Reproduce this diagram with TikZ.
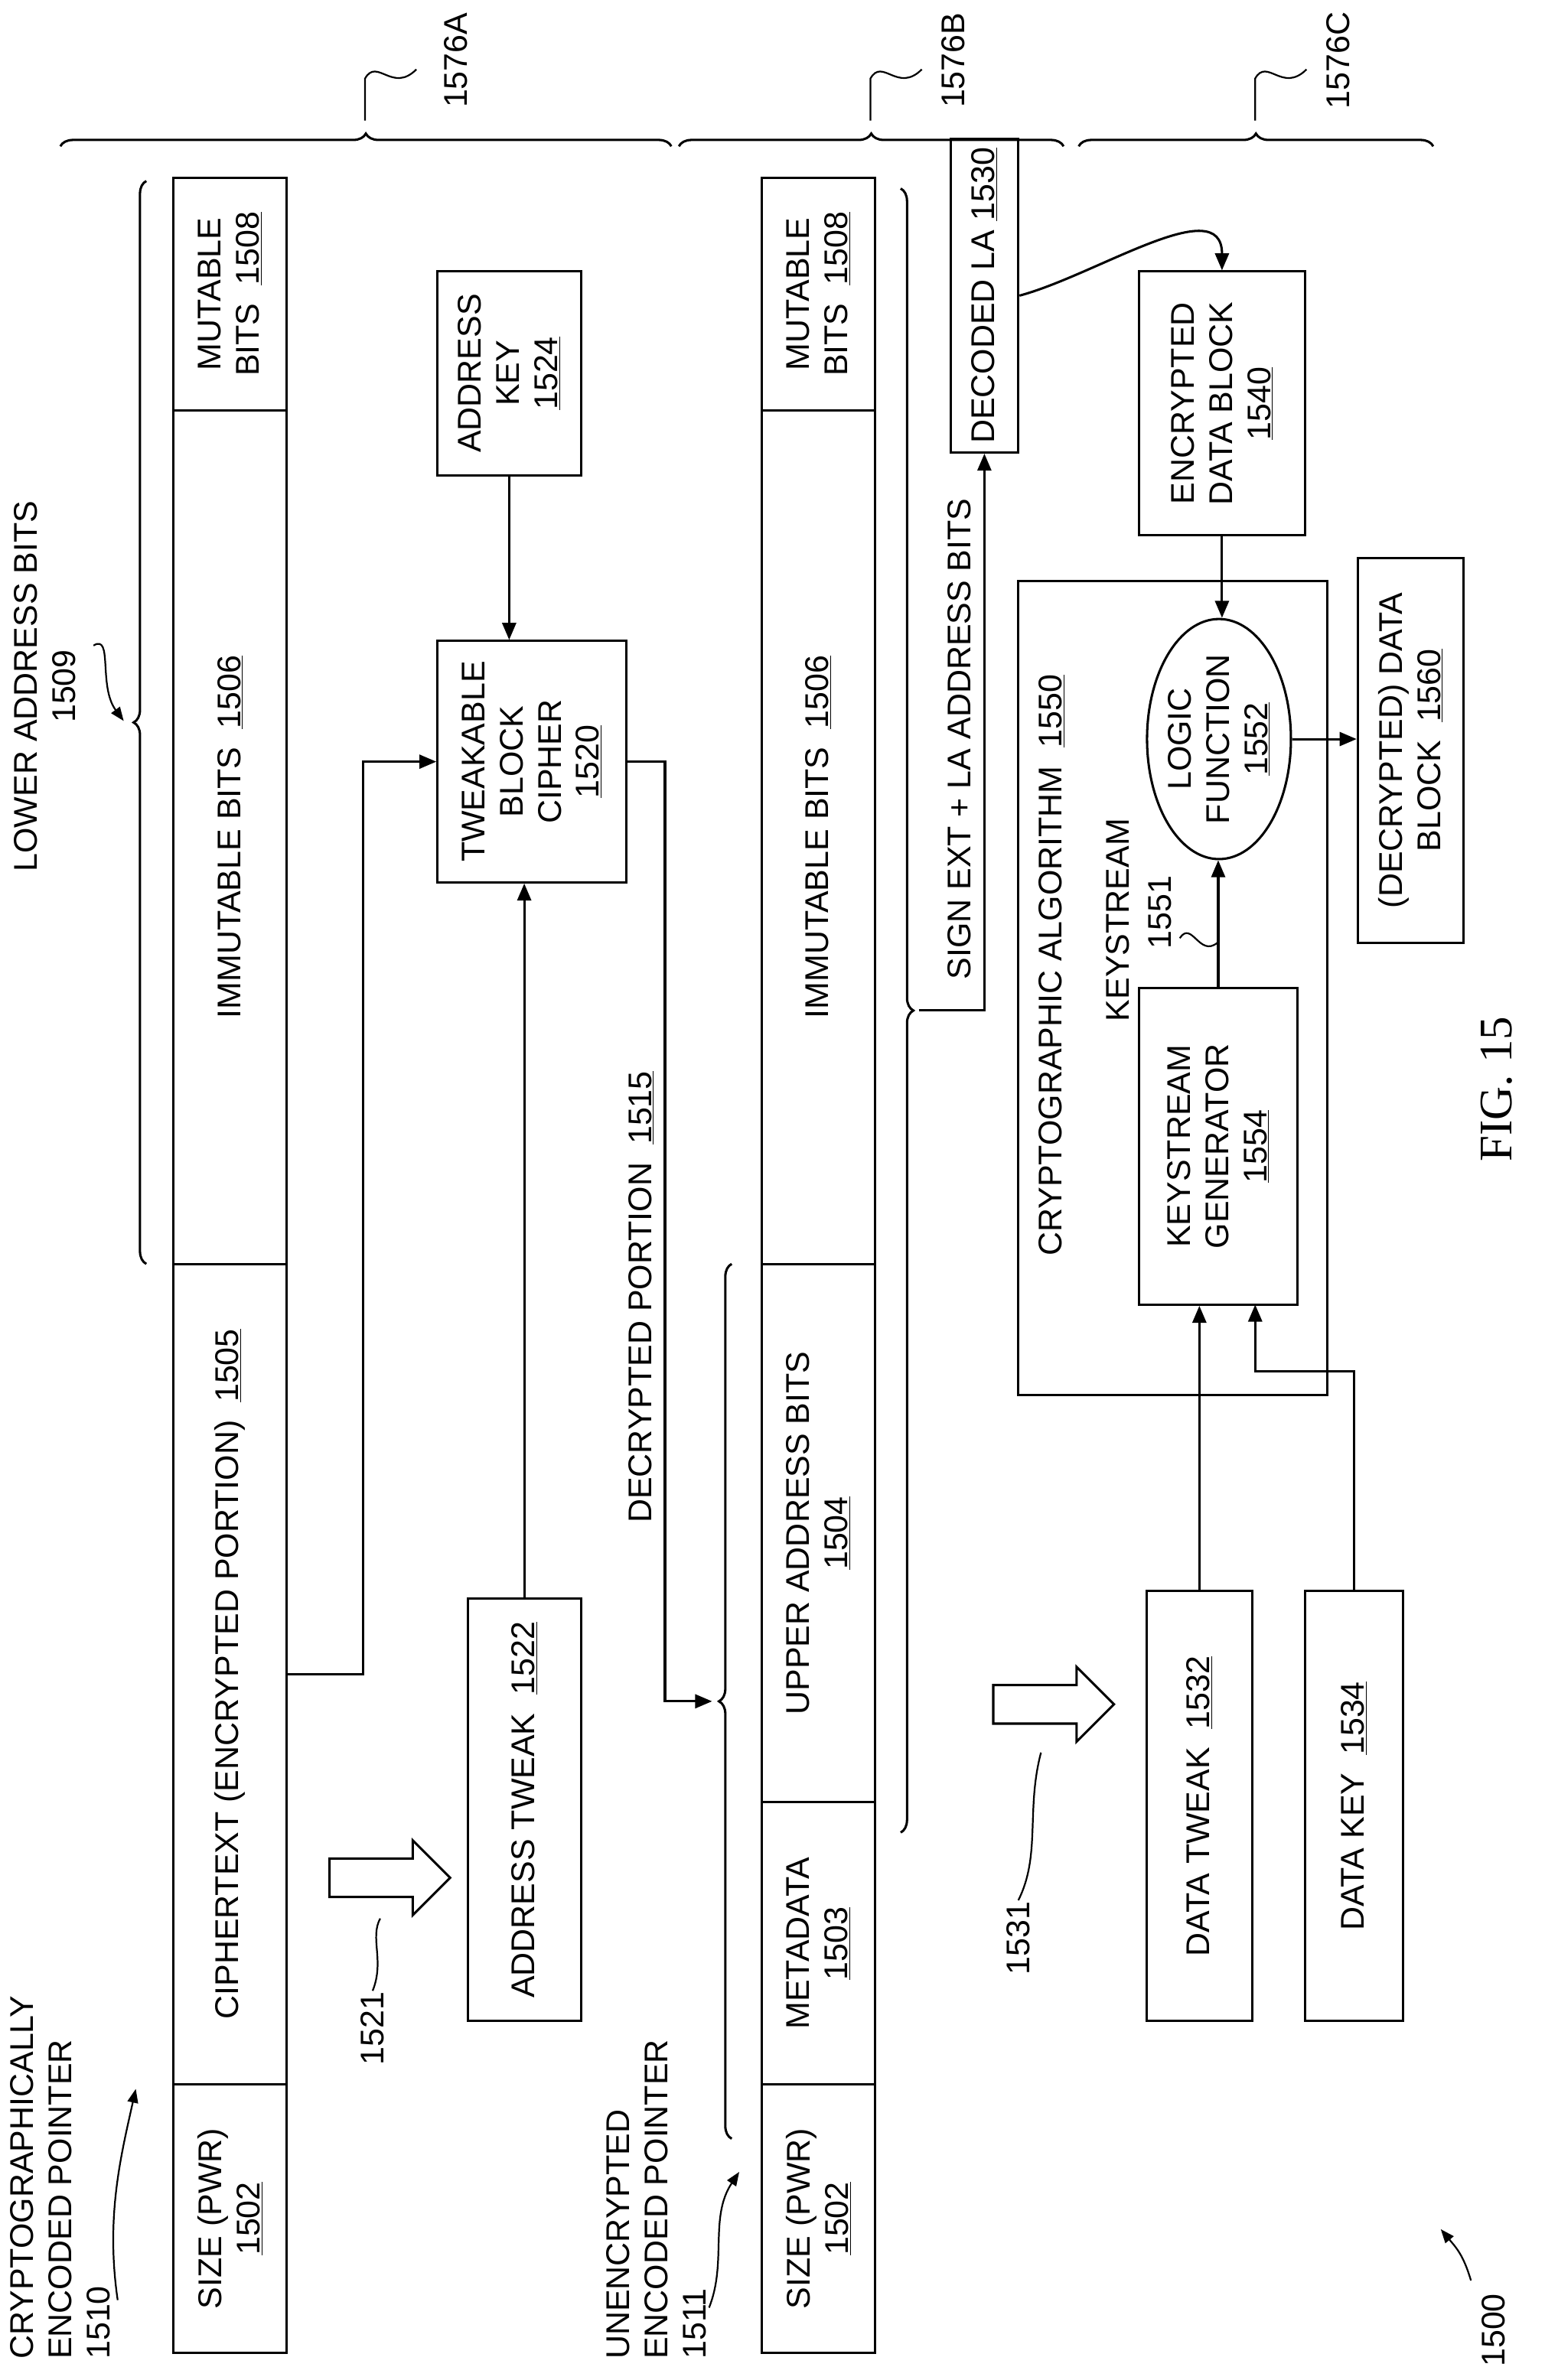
\documentclass[tikz,border=0pt]{standalone}
\usepackage{fontspec}
\setmainfont{Liberation Sans}
\newfontfamily\figfont{Liberation Serif}
\usetikzlibrary{positioning,shapes.geometric,shapes.arrows,decorations.pathreplacing,arrows.meta}

\tikzset{
  box/.style={draw=black, line width=2.2pt, rectangle, rotate=90, align=center,
    inner sep=2pt, font=\fontsize{31pt}{36pt}\selectfont},
  lbl/.style={rotate=90, align=center, inner sep=1pt, font=\fontsize{31pt}{36pt}\selectfont},
  arr/.style={line width=2.2pt, -{Triangle[length=16pt,width=13pt]}},
  ln/.style={line width=2.2pt},
  wig/.style={line width=1.6pt},
  brc/.style={line width=2.2pt, decorate, decoration={brace, amplitude=12pt}},
  blk/.style={draw=black, line width=2.2pt, single arrow, single arrow head extend=0.6cm,
    minimum height=4cm, inner xsep=0pt, inner ysep=0.6cm}
}
% box from (x1,y1) to (x2,y2), picture units
\newcommand{\bx}[6]{
  \node[box, minimum width={(#5-#3)*0.05cm}, minimum height={(#4-#2)*0.05cm}]
    (#1) at ({(#2+#4)/2},{(#3+#5)/2}) {#6};
}

\begin{document}
\begin{tikzpicture}[x=0.05cm, y=-0.05cm]
\useasboundingbox (0,0) rectangle (1024,1578);

% cryptographically encoded pointer
\bx{c1a}{115}{1382}{190}{1560}{SIZE (PWR)\\\underline{1502}}
\bx{c1b}{115}{838}{190}{1382}{CIPHERTEXT (ENCRYPTED PORTION)~~\underline{1505}}
\bx{c1c}{115}{272}{190}{838}{IMMUTABLE BITS~~\underline{1506}}
\bx{c1d}{115}{118}{190}{272}{MUTABLE\\BITS~~\underline{1508}}

\node[lbl, anchor=north west] (cep) at (6,1565)
  [align=left] {CRYPTOGRAPHICALLY\\ENCODED POINTER\\1510};
\draw[wig, -{Triangle[length=13pt,width=10pt]}] (78,1525)
  .. controls (70,1470) and (80,1430) .. (90,1385);

\draw[brc] (97,838) -- (97,120) coordinate[pos=0.5] (lab);
\node[lbl] (lowab) at (30,455) {LOWER ADDRESS BITS\\1509};
\draw[wig, -{Triangle[length=13pt,width=10pt]}] (62,428)
  .. controls (75,420) and (65,455) .. (82,478);

% address path
\node[blk] (b1521) at (252,1245) {};
\node[lbl] (l1521) at (247,1345) {1521};
\draw[wig] (l1521.east) .. controls (255,1300) and (245,1285) .. (252,1272);

\bx{tweak}{310}{1060}{385}{1340}{ADDRESS TWEAK~~\underline{1522}}
\bx{cipher}{290}{425}{415}{585}{TWEAKABLE\\BLOCK\\CIPHER\\\underline{1520}}
\bx{key}{290}{180}{385}{315}{ADDRESS\\KEY\\\underline{1524}}

\draw[arr] (key.west) -- (key.west |- cipher.east);
\draw[arr] (tweak.east) -- (tweak.east |- cipher.west);
\draw[arr] (c1b.south) -- ++(50,0) |- (cipher.north);

\draw[brc] (485,1418) -- (485,838) coordinate[pos=0.5] (dp);
\coordinate (dptip) at (472,1128);
\draw[arr] (cipher.south) -- ++(25,0) |- (dptip);
\node[lbl] (l1515) at (425,860) {DECRYPTED PORTION~~\underline{1515}};

% unencrypted encoded pointer
\bx{u1}{505}{1382}{580}{1560}{SIZE (PWR)\\\underline{1502}}
\bx{u2}{505}{1195}{580}{1382}{METADATA\\\underline{1503}}
\bx{u3}{505}{838}{580}{1195}{UPPER ADDRESS BITS\\\underline{1504}}
\bx{u4}{505}{272}{580}{838}{IMMUTABLE BITS~~\underline{1506}}
\bx{u5}{505}{118}{580}{272}{MUTABLE\\BITS~~\underline{1508}}

\node[lbl, anchor=north west] (uep) at (401,1565)
  [align=left] {UNENCRYPTED\\ENCODED POINTER\\1511};
\draw[wig, -{Triangle[length=13pt,width=10pt]}] (470,1530)
  .. controls (482,1500) and (470,1470) .. (490,1440);

\draw[brc] (597,125) -- (597,1215) coordinate[pos=0.5] (ubr);
\coordinate (ubrtip) at (609,670);
\bx{dla}{630}{92}{675}{300}{DECODED LA~\underline{1530}}
\draw[arr] (ubrtip) -| (dla.west);
\node[lbl] (lsign) at (636,490) {SIGN EXT + LA ADDRESS BITS};

% data path
\bx{edb}{755}{180}{865}{355}{ENCRYPTED\\DATA BLOCK\\\underline{1540}}
\draw[arr] (dla.south) to[out=15, in=90] (edb.east);

\bx{alg}{675}{385}{880}{925}{}
\node[lbl] (lalg) at (697,640) {CRYPTOGRAPHIC ALGORITHM~~\underline{1550}};
\bx{ksg}{755}{655}{860}{865}{KEYSTREAM\\GENERATOR\\\underline{1554}}
\node[draw=black, line width=2.2pt, ellipse, rotate=90, align=center, inner sep=0pt,
  minimum width=7.6cm, minimum height=4.2cm, font=\fontsize{31pt}{36pt}\selectfont]
  (lf) at (808,490) {LOGIC\\FUNCTION\\\underline{1552}};
\bx{ddb}{900}{370}{970}{625}{(DECRYPTED) DATA\\BLOCK~~\underline{1560}}

\draw[arr] (edb.west) -- (edb.west |- lf.east);
\draw[arr] (ksg.east) -- (ksg.east |- lf.west);
\draw[arr] (lf.south) -- (lf.south -| ddb.north);
\node[lbl] (lks) at (741,610) {KEYSTREAM};
\node[lbl] (l1551) at (769,605) {1551};
\draw[wig] (782,622) .. controls (790,610) and (795,635) .. (807,625);

\node[blk] (b1531) at (692,1130) {};
\node[lbl] (l1531) at (675,1285) {1531};
\draw[wig] (l1531.east) .. controls (690,1230) and (680,1200) .. (690,1162);

\bx{dt}{760}{1055}{830}{1340}{DATA TWEAK~~\underline{1532}}
\bx{dk}{865}{1055}{930}{1340}{DATA KEY~~\underline{1534}}
\coordinate (kin) at (832,865);
\draw[arr] (dt.east) -- (dt.east |- ksg.west);
\draw[arr] (dk.east) -- ++(0,-145) -| (kin);

% group braces
\draw[brc] (40,97) -- (445,97) coordinate[pos=0.5] (ga);
\draw[brc] (450,97) -- (705,97) coordinate[pos=0.5] (gb);
\draw[brc] (715,97) -- (950,97) coordinate[pos=0.5] (gc);
\node[lbl] (l76a) at (302,40) {1576A};
\node[lbl] (l76b) at (632,40) {1576B};
\node[lbl] (l76c) at (887,40) {1576C};
\foreach \g/\x in {ga/242,gb/577,gc/832}
  \draw[wig] (\x,80) -- (\x,52) .. controls (\x+8,38) and (\x+18,62) .. (\x+34,46);

\node[rotate=90, font=\figfont\fontsize{44pt}{50pt}\selectfont] (fig) at (992,722) {FIG. 15};
\node[lbl] (l1500) at (990,1545) {1500};
\draw[wig, -{Triangle[length=13pt,width=10pt]}] (975,1512)
  .. controls (970,1495) and (965,1490) .. (955,1478);
\end{tikzpicture}
\end{document}
